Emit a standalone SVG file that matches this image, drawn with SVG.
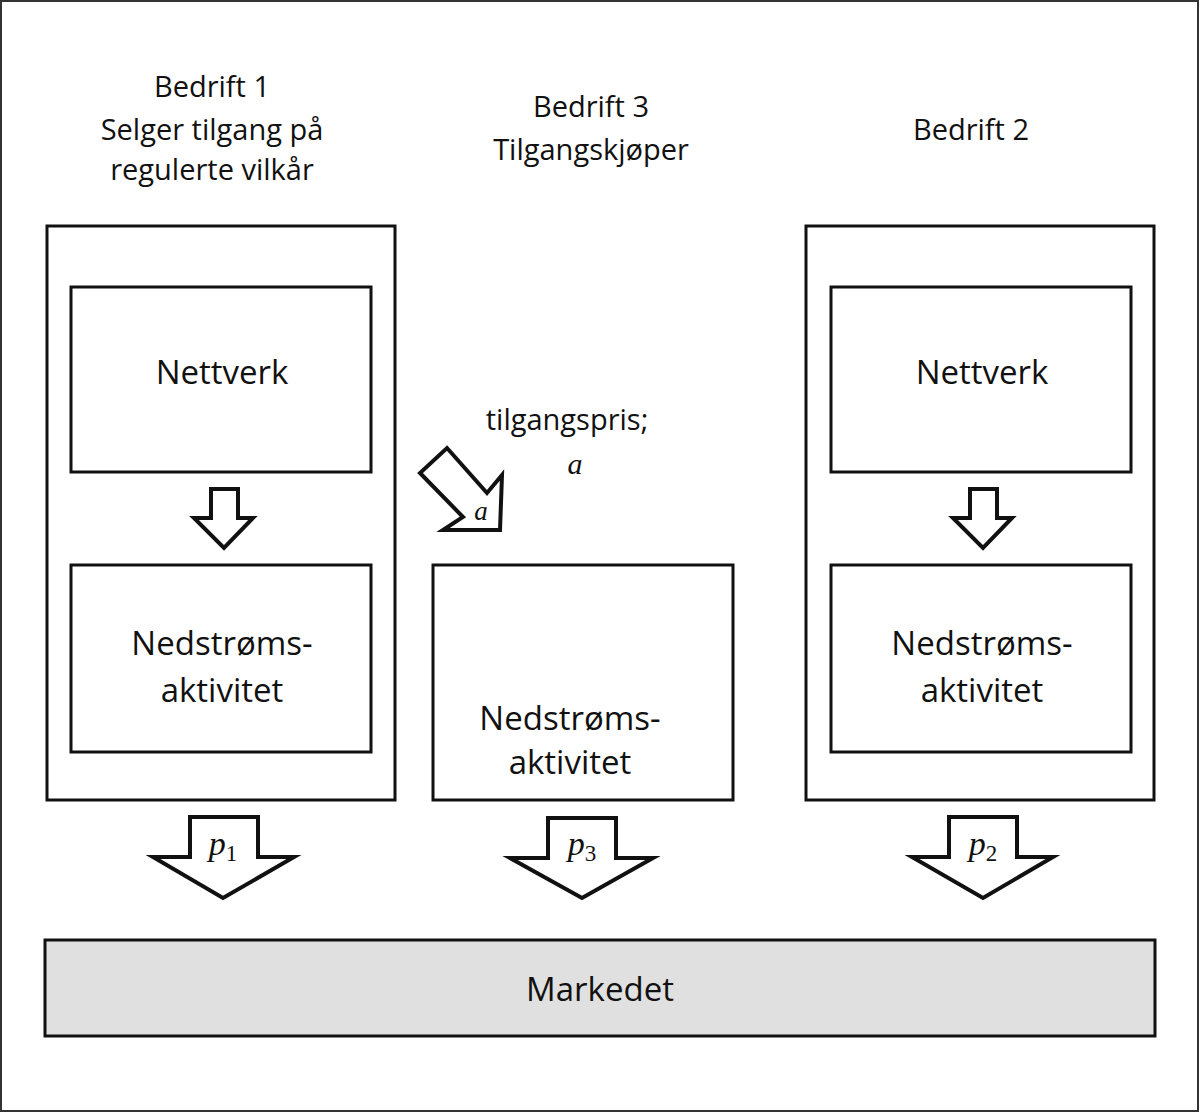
<svg xmlns="http://www.w3.org/2000/svg" width="1200" height="1113" viewBox="0 0 1200 1113">
<style>
.box{fill:#fff;stroke:#111;stroke-width:3}
.arr{fill:#fff;stroke:#111;stroke-width:4;stroke-linejoin:miter}
.t{font-family:"Open Sans","Liberation Sans",sans-serif;fill:#111;text-anchor:middle}
.h{font-size:29px}
.n{font-size:33px}
.m{font-family:"Liberation Serif",serif;fill:#111;text-anchor:middle}
</style>
<rect x="1" y="1" width="1197" height="1110" fill="#fff" stroke="#333" stroke-width="2"/>
<g id="labels">
<text class="t h" x="212" y="97">Bedrift 1</text>
<text class="t h" x="212" y="140">Selger tilgang på</text>
<text class="t h" x="212" y="180">regulerte vilkår</text>
<text class="t h" x="591" y="117">Bedrift 3</text>
<text class="t h" x="591" y="160">Tilgangskjøper</text>
<text class="t h" x="971" y="140">Bedrift 2</text>
<text class="t h" x="567" y="430">tilgangspris;</text>
<text class="m" x="575" y="474" font-size="30" font-style="italic">a</text>
</g>
<g id="bedrift1">
<rect class="box" x="47" y="226" width="348" height="574"/>
<rect class="box" x="71" y="287" width="300" height="185"/>
<text class="t n" x="222" y="384">Nettverk</text>
<rect class="box" x="71" y="565" width="300" height="187"/>
<text class="t n" x="222" y="655">Nedstrøms-</text>
<text class="t n" x="222" y="702">aktivitet</text>
</g>
<g id="bedrift3">
<rect class="box" x="433" y="565" width="300" height="235"/>
<text class="t n" x="570" y="730">Nedstrøms-</text>
<text class="t n" x="570" y="774">aktivitet</text>
</g>
<g id="bedrift2">
<rect class="box" x="806" y="226" width="348" height="574"/>
<rect class="box" x="831" y="287" width="300" height="185"/>
<text class="t n" x="982" y="384">Nettverk</text>
<rect class="box" x="831" y="565" width="300" height="187"/>
<text class="t n" x="982" y="655">Nedstrøms-</text>
<text class="t n" x="982" y="702">aktivitet</text>
</g>
<g id="markedet">
<rect x="45" y="940" width="1110" height="96" fill="#e0e0e0" stroke="#111" stroke-width="3"/>
<text class="t n" x="600" y="1001">Markedet</text>
</g>
<g id="connectors">
<path class="arr" d="M211,489 H238 V518 H253 L224,548 L194,518 H211 Z"/>
<path class="arr" d="M970,489 H997 V518 H1012 L983,548 L953,518 H970 Z"/>
<path class="arr" d="M447,448 L487,493 L502,475 L500,530 L443,530 L463,517 L420,473 Z"/>
<text class="m" x="481" y="520" font-size="27" font-style="italic">a</text>
<path class="arr" d="M190,817 H258 V857 H294 L223,898 L153,857 H190 Z"/>
<text class="m" x="223" y="855" font-size="34"><tspan font-style="italic">p</tspan><tspan font-size="23" dy="6">1</tspan></text>
<path class="arr" d="M548,818 H616 V858 H653 L582,898 L510,858 H548 Z"/>
<text class="m" x="582" y="855" font-size="34"><tspan font-style="italic">p</tspan><tspan font-size="23" dy="6">3</tspan></text>
<path class="arr" d="M949,817 H1017 V857 H1053 L983,898 L912,857 H949 Z"/>
<text class="m" x="983" y="855" font-size="34"><tspan font-style="italic">p</tspan><tspan font-size="23" dy="6">2</tspan></text>
</g>
</svg>
